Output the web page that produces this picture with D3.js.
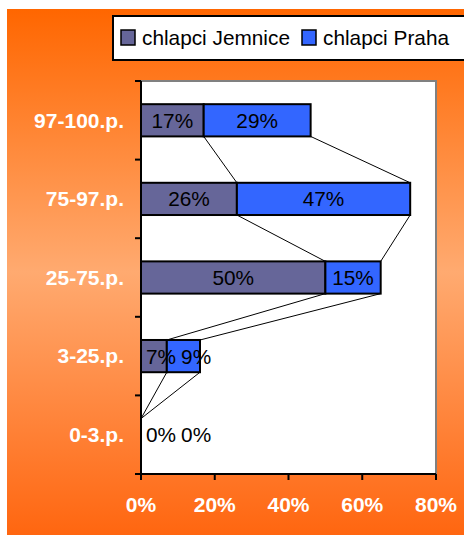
<!DOCTYPE html>
<html>
<head>
<meta charset="utf-8">
<script src="https://cdn.jsdelivr.net/npm/d3@7/dist/d3.min.js"></script>
<style>
  html, body { margin: 0; padding: 0; background: #fff; }
  svg { display: block; font-family: "Liberation Sans", Arial, sans-serif; }
</style>
</head>
<body>
<svg id="chart" width="464" height="535"></svg>
<script>
// Percentile bands, top to bottom
const categories = ["97-100.p.", "75-97.p.", "25-75.p.", "3-25.p.", "0-3.p."];
const seriesNames = ["chlapci Jemnice", "chlapci Praha"];
const jemnice = [17, 26, 50, 7, 0];
const praha = [29, 47, 15, 9, 0];
const xTicks = [0, 20, 40, 60, 80];
const colors = ["#666699", "#3366FF"];

const svg = d3.select("#chart");
const W = 464, H = 535;

// Orange background with lighter band in the middle
const defs = svg.append("defs");
const grad = defs.append("linearGradient").attr("id", "bg")
  .attr("x1", 0).attr("y1", 0).attr("x2", 0).attr("y2", 1);
grad.append("stop").attr("offset", "0%").attr("stop-color", "#FF6600");
grad.append("stop").attr("offset", "50%").attr("stop-color", "#FFAA70");
grad.append("stop").attr("offset", "100%").attr("stop-color", "#FF6610");
svg.append("rect").attr("x", 7).attr("y", 9).attr("width", W - 7).attr("height", H - 9)
  .attr("fill", "url(#bg)");

const plot = { left: 141, right: 436, top: 81, bottom: 474 };

const x = d3.scaleLinear().domain([0, 80]).range([plot.left, plot.right]);
const y = d3.scaleBand().domain(categories).range([plot.top, plot.bottom]).paddingInner(0).paddingOuter(0);
const barH = y.bandwidth() * 0.41;

// Plot area
svg.append("rect").attr("x", plot.left).attr("y", plot.top)
  .attr("width", plot.right - plot.left).attr("height", plot.bottom - plot.top)
  .attr("fill", "#fff").attr("stroke", "#808080").attr("stroke-width", 2);

// Stacked segments
const stackData = categories.map((c, i) => ({ cat: c, j: jemnice[i], p: praha[i] }));
const stack = d3.stack().keys(["j", "p"])(stackData);

const barTop = c => y(c) + (y.bandwidth() - barH) / 2;

// Connector lines between segment ends of neighbouring bars
const conn = svg.append("g").attr("stroke", "#000").attr("stroke-width", 1);
stack.forEach(layer => {
  for (let i = 0; i < categories.length - 1; i++) {
    const a = layer[i], b = layer[i + 1];
    conn.append("line")
      .attr("x1", x(a[1])).attr("y1", barTop(categories[i]) + barH)
      .attr("x2", x(b[1])).attr("y2", barTop(categories[i + 1]));
  }
});

stack.forEach((layer, k) => {
  svg.append("g").selectAll("rect").data(layer.filter(d => d[1] > d[0])).join("rect")
    .attr("x", d => x(d[0]))
    .attr("y", d => barTop(d.data.cat))
    .attr("width", d => x(d[1]) - x(d[0]))
    .attr("height", barH)
    .attr("fill", colors[k])
    .attr("stroke", "#000").attr("stroke-width", 2);
});

// Axes
const yAxis = svg.append("g");
yAxis.append("line").attr("x1", plot.left).attr("x2", plot.left)
  .attr("y1", plot.top).attr("y2", plot.bottom + 6).attr("stroke", "#000").attr("stroke-width", 2);
const bounds = categories.map(c => y(c)).concat([plot.bottom]);
yAxis.selectAll("line.tick").data(bounds).join("line").attr("class", "tick")
  .attr("x1", plot.left - 6).attr("x2", plot.left)
  .attr("y1", d => d).attr("y2", d => d)
  .attr("stroke", "#000").attr("stroke-width", 2);
yAxis.selectAll("text").data(categories).join("text")
  .attr("x", 124).attr("y", d => y(d) + y.bandwidth() / 2)
  .attr("dy", "0.35em").attr("text-anchor", "end")
  .attr("fill", "#fff").attr("font-weight", "bold").attr("font-size", "21px")
  .text(d => d);

const xAxis = svg.append("g");
xAxis.append("line").attr("x1", plot.left).attr("x2", plot.right)
  .attr("y1", plot.bottom).attr("y2", plot.bottom).attr("stroke", "#000").attr("stroke-width", 2);
xAxis.selectAll("line.tick").data(xTicks).join("line").attr("class", "tick")
  .attr("x1", d => x(d)).attr("x2", d => x(d))
  .attr("y1", plot.bottom).attr("y2", plot.bottom + 6)
  .attr("stroke", "#000").attr("stroke-width", 2);
xAxis.selectAll("text").data(xTicks).join("text")
  .attr("x", d => x(d)).attr("y", 512).attr("text-anchor", "middle")
  .attr("fill", "#fff").attr("font-weight", "bold").attr("font-size", "21px")
  .text(d => d + "%");

// Value labels: centred in the segment, or laid out one after another when too narrow
const labelG = svg.append("g").attr("font-size", "20.8px").attr("fill", "#000");
stackData.forEach((row, i) => {
  let prevEnd = -Infinity;
  stack.forEach(layer => {
    const d = layer[i];
    const val = d[1] - d[0];
    const txt = val + "%";
    const t = labelG.append("text").attr("y", y(row.cat) + y.bandwidth() / 2)
      .attr("dy", "0.36em").text(txt);
    const w = t.node().getComputedTextLength();
    const segW = x(d[1]) - x(d[0]);
    let left;
    if (segW >= w + 8) left = (x(d[0]) + x(d[1])) / 2 - w / 2;
    else left = Math.max((x(d[0]) + x(d[1])) / 2 - w / 2, prevEnd + 5, plot.left + 5);
    t.attr("x", left);
    prevEnd = left + w;
  });
});

// Legend
const lg = svg.append("g");
lg.append("rect").attr("x", 113).attr("y", 16).attr("width", 360).attr("height", 44)
  .attr("fill", "#fff").attr("stroke", "#000").attr("stroke-width", 2);
const legendX = [121, 302];
seriesNames.forEach((n, k) => {
  lg.append("rect").attr("x", legendX[k]).attr("y", 30).attr("width", 14).attr("height", 15)
    .attr("fill", colors[k]).attr("stroke", "#000").attr("stroke-width", 1.5);
  lg.append("text").attr("x", legendX[k] + 21).attr("y", 44.5)
    .attr("font-size", "20.8px").attr("fill", "#000").text(n);
});
</script>
</body>
</html>
